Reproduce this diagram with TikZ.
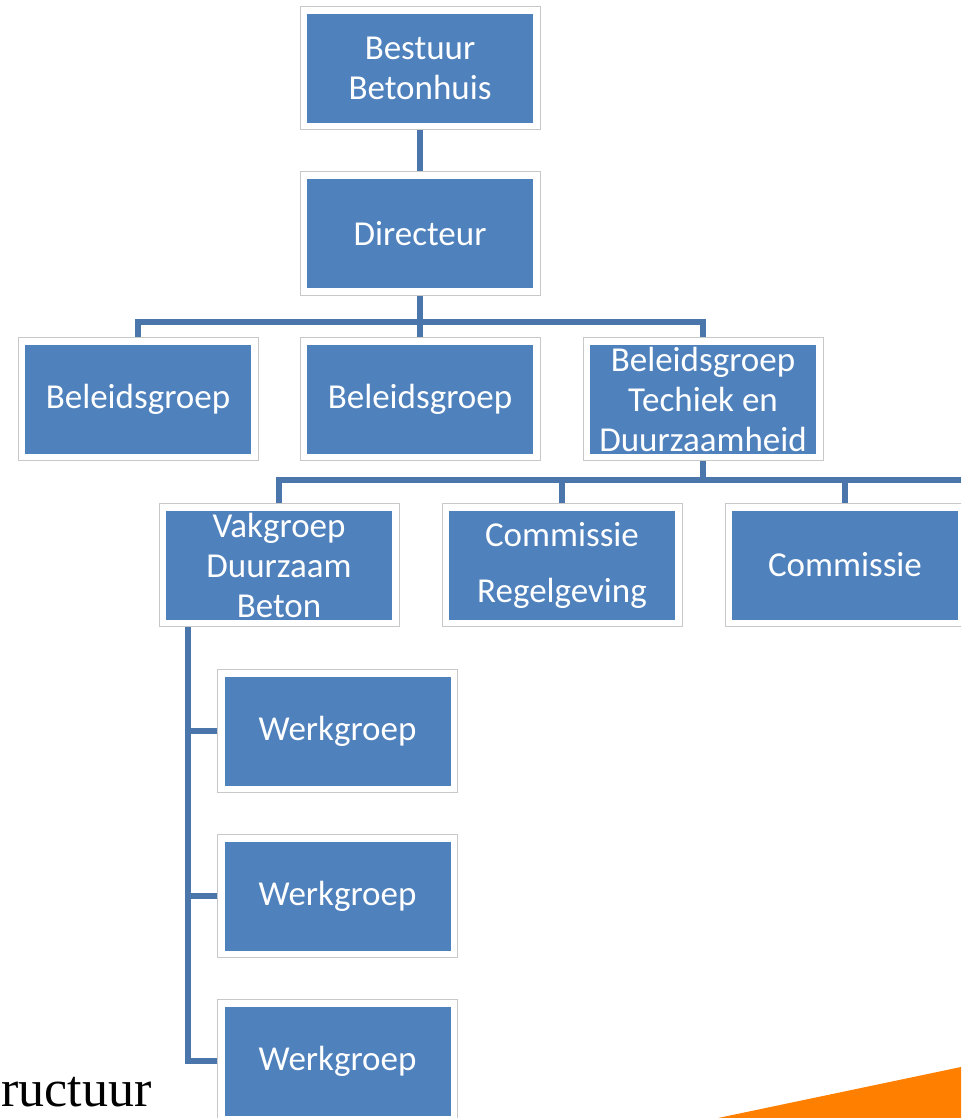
\documentclass[tikz,border=0pt]{standalone}
\usepackage{fontspec}
\setmainfont{Carlito}
\newfontfamily\serifx{Liberation Serif}
\usetikzlibrary{backgrounds}
\definecolor{boxblue}{HTML}{4F81BD}
\definecolor{lineblue}{HTML}{4A76AC}
\definecolor{frameg}{HTML}{C8C8C8}
\definecolor{orangex}{HTML}{FF7F00}
\tikzset{
  orgbox/.style={rectangle, minimum width=240pt, minimum height=123pt, inner sep=0pt,
    fill=white, draw=frameg, line width=1pt, text=white, align=center,
    font=\fontsize{35}{40}\selectfont,
    path picture={\fill[boxblue] ([xshift=7pt,yshift=-7pt]path picture bounding box.north west) rectangle ([xshift=-7pt,yshift=7pt]path picture bounding box.south east);}},
  conn/.style={draw=lineblue, line width=6pt}
}
\begin{document}
\begin{tikzpicture}[x=1pt,y=-1pt]
\useasboundingbox (0,0) rectangle (961,1118);
\clip (0,0) rectangle (961,1118);
\node[orgbox] (top) at (420,68.5) {Bestuur\\Betonhuis};
\node[orgbox] (dir) at (420,233.5) {Directeur};
\node[orgbox] (b1) at (138,399) {Beleidsgroep};
\node[orgbox] (b2) at (420,399) {Beleidsgroep};
\node[orgbox] (b3) at (703,399) {Beleidsgroep\\Techiek en\\Duurzaamheid};
\node[orgbox] (vak) at (279,565) {Vakgroep\\Duurzaam\\Beton};
\node[orgbox] (com1) at (562,565) {Commissie\\[16pt]Regelgeving};
\node[orgbox] (com2) at (845,565) {Commissie};
\node[orgbox] (w1) at (337.5,731) {Werkgroep};
\node[orgbox] (w2) at (337.5,896) {Werkgroep};
\node[orgbox] (w3) at (337.5,1061) {Werkgroep};
\coordinate (busR) at (961,480);
\coordinate (vtop) at ([xshift=29pt]vak.south west);
\begin{scope}[on background layer]
\draw[conn] (top.south) -- (dir.north);
\draw[conn] (dir.south) -- (dir.south |- 0,322) -| (b1.north);
\draw[conn] (dir.south) -- (dir.south |- 0,322) -| (b3.north);
\draw[conn] (b2.north) -- (b2.north |- 0,322);
\draw[conn] (b3.south) -- (b3.south |- busR) -| (vak.north);
\draw[conn] (b3.south |- busR) -- (busR);
\draw[conn] (com1.north) -- (com1.north |- busR);
\draw[conn] (com2.north) -- (com2.north |- busR);
\draw[conn] (vtop) |- (w1.west);
\draw[conn] (vtop) |- (w2.west);
\draw[conn] (vtop) |- (w3.west);
\end{scope}
\node[anchor=base west, inner sep=0pt, font=\serifx\fontsize{52}{58}\selectfont] (title) at (1,1106) {ructuur};
\fill[orangex] (718,1118) -- (961,1067) -- (961,1118) -- cycle;
\end{tikzpicture}
\end{document}
